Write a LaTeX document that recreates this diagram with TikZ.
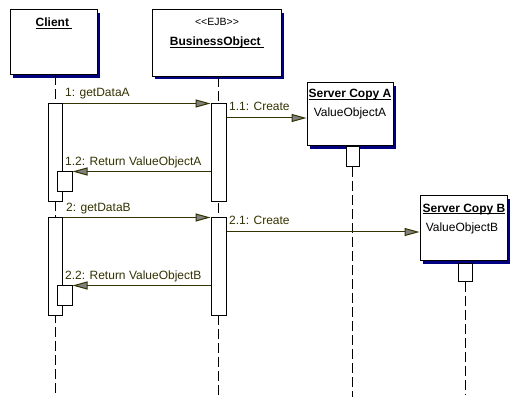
\documentclass[tikz,border=0pt]{standalone}
\usepackage{fontspec}
\setmainfont{Liberation Sans}
\usetikzlibrary{arrows.meta,shadows}
\definecolor{navyshadow}{HTML}{000080}
\definecolor{msgcol}{HTML}{333300}
\definecolor{headgray}{HTML}{808080}
\newcommand\ulbox[1]{\setbox0\hbox{#1}\rlap{\rule[-2pt]{\wd0}{1pt}}\box0}
\begin{document}
\begin{tikzpicture}[x=1pt,y=-1pt,
  font=\fontsize{12}{14}\selectfont,
  objbox/.style={draw=black, line width=1pt, fill=white, inner sep=0pt,
    copy shadow={shadow xshift=3pt, shadow yshift=-3pt, fill=navyshadow, draw=none}},
  actbar/.style={draw=black, line width=1pt, fill=white, inner sep=0pt, minimum width=14pt},
  life/.style={line width=1pt, dash pattern=on 10pt off 4pt},
  msg/.style={draw=msgcol, line width=1pt, -{Triangle[length=15pt,width=8pt,fill=headgray]}},
  msglabel/.style={text=msgcol, anchor=base west, inner sep=0pt},
  txt/.style={anchor=base, inner sep=0pt},
  title/.style={txt, font=\fontsize{12}{14}\selectfont\bfseries},
]
\useasboundingbox[fill=white] (0,0) rectangle (520,406);

% lifelines
\coordinate (clend) at (55,397);
\coordinate (boend) at (218.5,397);
\coordinate (saend) at (352.5,397);
\coordinate (sbend) at (465,395);

% object boxes
\node[objbox, minimum width=87pt, minimum height=65pt] (client) at (53.5,42.5) {};
\node[objbox, minimum width=129pt, minimum height=66.5pt] (bo) at (216.5,43.25) {};
\node[objbox, minimum width=86pt, minimum height=63pt] (sa) at (350,114.5) {};
\node[objbox, minimum width=87pt, minimum height=65pt] (sb) at (463.5,228.5) {};

\draw[life] (clend |- client.south) -- (clend);
\draw[life] (boend |- bo.south) -- (boend);

% box texts
\node[title] (ctitle) at (54,27) {\ulbox{Client\ }};
\node[txt, font=\fontsize{10.5}{12}\selectfont] (ejb) at (217,26) {<{}<EJB>{}>};
\node[title] (btitle) at (217,46) {\ulbox{BusinessObject\ }};
\node[title] (satitle) at (350,98) {\ulbox{Server Copy A}};
\node[txt] (saobj) at (350,117) {ValueObjectA};
\node[title] (sbtitle) at (464,212.5) {\ulbox{Server Copy B}};
\node[txt] (sbobj) at (462,231.5) {ValueObjectB};

% activation bars
\node[actbar, minimum height=20pt, minimum width=13pt] (sab) at (352.5,157) {};
\node[actbar, minimum height=18pt] (sbb) at (465,272.5) {};
\draw[life] (sab.south) -- (saend);
\draw[life] (sbb.south) -- (sbend);

\node[actbar, minimum height=98pt] (ca1) at (55,153) {};
\node[actbar, minimum height=98pt, minimum width=15pt] (ba1) at (218.5,153) {};
\node[actbar, minimum height=20pt, minimum width=15pt] (cn1) at (64.5,182) {};
\node[actbar, minimum height=98pt] (ca2) at (55,267) {};
\node[actbar, minimum height=98pt, minimum width=15pt] (ba2) at (218.5,267) {};
\node[actbar, minimum height=20pt, minimum width=15pt] (cn2) at (64.5,296) {};

% messages
\coordinate (sain) at ([yshift=-3.5pt]sa.west);
\coordinate (sbin) at ([yshift=-3.5pt]sb.west);
\draw[msg] (ca1.north east) -- (ba1.north west);
\draw[msg] (ba1.east |- sain) -- (sain);
\draw[msg] (ba1.west |- cn1.north east) -- (cn1.north east);
\draw[msg] (ca2.north east) -- (ba2.north west);
\draw[msg] (ba2.east |- sbin) -- (sbin);
\draw[msg] (ba2.west |- cn2.north east) -- (cn2.north east);

% message labels
\node[msglabel] (l1) at (65,97) {1: getDataA};
\node[msglabel] (l11) at (229,111) {1.1: Create};
\node[msglabel] (l12) at (65,165.5) {1.2: Return ValueObjectA};
\node[msglabel] (l2) at (66,212) {2: getDataB};
\node[msglabel] (l21) at (229,225) {2.1: Create};
\node[msglabel] (l22) at (65,280) {2.2: Return ValueObjectB};
\end{tikzpicture}
\end{document}
